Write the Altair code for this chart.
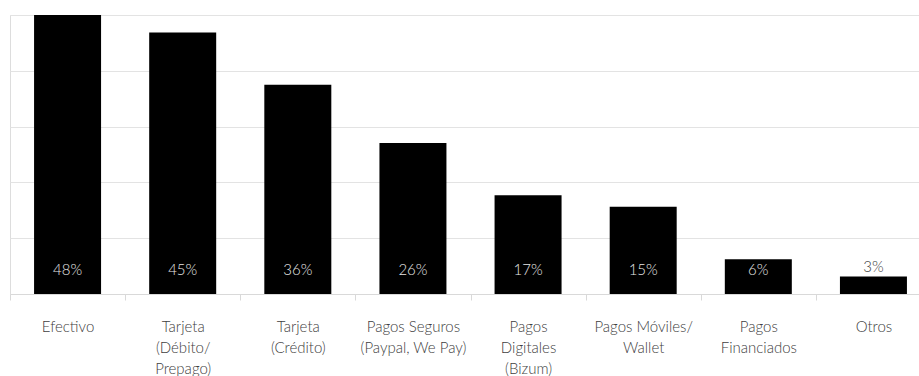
import altair as alt
import pandas as pd

categories = [
    "Efectivo",
    "Tarjeta\n(Débito/\nPrepago)",
    "Tarjeta\n(Crédito)",
    "Pagos Seguros\n(Paypal, We Pay)",
    "Pagos\nDigitales\n(Bizum)",
    "Pagos Móviles/\nWallet",
    "Pagos\nFinanciados",
    "Otros",
]
values = [48, 45, 36, 26, 17, 15, 6, 3]
labels = ["48%", "45%", "36%", "26%", "17%", "15%", "6%", "3%"]

df = pd.DataFrame({"cat": categories, "val": values, "lab": labels})
df["inside"] = df["val"] > 5
df["zero"] = 0

FONT = "Lato"
grid_vals = [9.6, 19.2, 28.8, 38.4, 48]

xenc = alt.X(
    "cat:N",
    sort=None,
    title=None,
    scale=alt.Scale(range=[0, 921], paddingInner=0, paddingOuter=0),
    axis=alt.Axis(
        labelExpr="split(datum.label, '\\n')",
        labelAngle=0,
        labelFont=FONT,
        labelFontWeight=300,
        labelFontSize=15,
        labelColor="#404040",
        labelLineHeight=21,
        labelPadding=19,
        labelBaseline="top",
        tickBand="extent",
        tickSize=6,
        tickColor="#d9d9d9",
        domainColor="#d9d9d9",
        grid=False,
    ),
)

yscale = alt.Scale(domain=[0, 48], nice=False, zero=True)
yaxis = alt.Axis(
    values=grid_vals,
    labels=False,
    ticks=False,
    domain=False,
    title=None,
    grid=True,
    gridColor="#e3e3e3",
    gridWidth=1,
)

bars = alt.Chart(df).mark_bar(color="#000000", width=67).encode(
    x=xenc,
    y=alt.Y("val:Q", scale=yscale, axis=yaxis),
)

inside = alt.Chart(df).transform_filter("datum.inside").mark_text(
    font=FONT, fontWeight=300, fontSize=15, color="#e6e6e6", baseline="middle", dy=-24
).encode(
    x=alt.X("cat:N", sort=None),
    y=alt.Y("zero:Q", scale=yscale),
    text="lab:N",
)

outside = alt.Chart(df).transform_filter("!datum.inside").mark_text(
    font=FONT, fontWeight=300, fontSize=15, color="#404040", baseline="middle", dy=-10
).encode(
    x=alt.X("cat:N", sort=None),
    y=alt.Y("val:Q", scale=yscale),
    text="lab:N",
)

chart = (
    alt.layer(bars, inside, outside)
    .properties(
        width=909,
        height=279,
        padding={"left": 10, "top": 15, "right": 0, "bottom": 82},
        autosize=alt.AutoSizeParams(type="none"),
    )
    .configure_view(stroke=None)
    .configure(background="#ffffff")
)

chart.save("out.html", embed_options={"renderer": "svg", "actions": False})
